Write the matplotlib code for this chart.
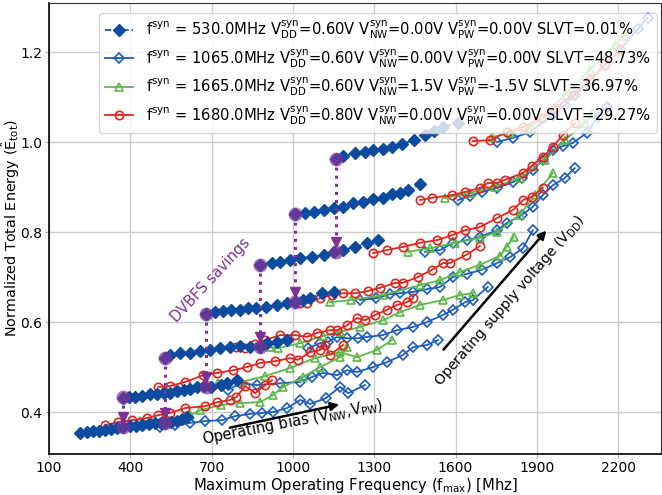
#!/usr/bin/env python3
"""
Normalized total energy vs. maximum operating frequency for four
synthesized designs, with the DVBFS savings arrows.
"""

import matplotlib
matplotlib.use("Agg")
import matplotlib.pyplot as plt

# ---------------------------------------------------------------------------
# Data, one inner list per V_DD step
# ---------------------------------------------------------------------------

# f_syn = 530 MHz (filled diamonds, dashed)
fd_freq = [
    [216, 240, 262, 285, 308, 330, 352, 374, 398, 420, 445, 468, 490, 512, 528, 550, 572, 592, 610],
    [374, 394, 419, 443, 474, 499, 523, 548, 573, 597, 622, 647, 671, 696, 733, 757, 794],
    [528, 547, 584, 621, 658, 695, 732, 769, 805, 842, 879, 903, 940, 978],
    [680, 713, 742, 772, 805, 834, 864, 900, 943, 980, 1008, 1039, 1063, 1107, 1150],
    [879, 922, 953, 990, 1027, 1070, 1113, 1150, 1186, 1229, 1272, 1315],
    [1008, 1045, 1076, 1113, 1150, 1186, 1223, 1260, 1297, 1334, 1365, 1395, 1426, 1469],
    [1159, 1186, 1229, 1266, 1297, 1334, 1365, 1402, 1445, 1487, 1520, 1553, 1610],
]
fd_energy = [
    [0.353, 0.355, 0.357, 0.359, 0.361, 0.362, 0.365, 0.367, 0.368, 0.370, 0.372, 0.373, 0.375, 0.376, 0.376, 0.379, 0.381, 0.385, 0.388],
    [0.432, 0.433, 0.434, 0.436, 0.440, 0.441, 0.443, 0.443, 0.447, 0.449, 0.452, 0.455, 0.458, 0.456, 0.460, 0.465, 0.471],
    [0.521, 0.527, 0.531, 0.531, 0.535, 0.538, 0.542, 0.545, 0.547, 0.545, 0.545, 0.553, 0.556, 0.561],
    [0.618, 0.622, 0.624, 0.627, 0.627, 0.631, 0.631, 0.634, 0.638, 0.642, 0.645, 0.649, 0.653, 0.664, 0.667],
    [0.727, 0.731, 0.734, 0.738, 0.742, 0.745, 0.749, 0.756, 0.760, 0.767, 0.775, 0.782],
    [0.839, 0.842, 0.845, 0.849, 0.853, 0.856, 0.864, 0.867, 0.873, 0.876, 0.884, 0.887, 0.894, 0.906],
    [0.962, 0.969, 0.975, 0.978, 0.982, 0.985, 0.989, 0.996, 1.004, 1.016, 1.025, 1.034, 1.042],
]

# f_syn = 1065 MHz (open diamonds)
hd_freq = [
    [511, 566, 621, 676, 739, 787, 842, 887, 927, 979, 1027, 1063, 1122, 1174, 1204, 1266],
    [761, 805, 868, 953, 1027, 1071, 1111, 1163, 1200, 1237, 1296, 1347, 1406, 1443, 1495, 1535],
    [1056, 1100, 1130, 1163, 1200, 1240, 1274, 1332, 1384, 1443, 1495, 1554, 1590, 1635, 1664, 1719],
    [1248, 1307, 1358, 1395, 1443, 1495, 1543, 1590, 1642, 1697, 1753, 1801, 1849, 1885],
    [1487, 1543, 1590, 1642, 1690, 1753, 1789, 1845, 1885, 1922, 1959, 2003, 2040],
    [1609, 1653, 1697, 1753, 1812, 1845, 1885, 1922, 1959, 1996, 2033, 2084, 2125, 2158],
    [1753, 1812, 1874, 1959, 2003, 2040, 2096, 2151, 2206, 2272, 2309],
]
hd_energy = [
    [0.367, 0.371, 0.376, 0.380, 0.382, 0.391, 0.396, 0.398, 0.400, 0.409, 0.427, 0.418, 0.431, 0.456, 0.442, 0.460],
    [0.449, 0.464, 0.460, 0.464, 0.467, 0.478, 0.487, 0.482, 0.493, 0.489, 0.500, 0.511, 0.527, 0.544, 0.549, 0.560],
    [0.542, 0.553, 0.556, 0.567, 0.564, 0.564, 0.567, 0.571, 0.582, 0.589, 0.600, 0.616, 0.627, 0.644, 0.649, 0.678],
    [0.649, 0.653, 0.662, 0.664, 0.667, 0.673, 0.678, 0.700, 0.707, 0.716, 0.731, 0.744, 0.764, 0.804],
    [0.756, 0.760, 0.776, 0.782, 0.789, 0.804, 0.820, 0.838, 0.856, 0.882, 0.904, 0.920, 0.942],
    [0.871, 0.880, 0.889, 0.898, 0.911, 0.920, 0.938, 0.960, 0.982, 0.991, 0.998, 1.020, 1.056, 1.078],
    [1.000, 1.009, 1.022, 1.060, 1.082, 1.104, 1.138, 1.171, 1.204, 1.251, 1.276],
]

# f_syn = 1665 MHz (open triangles)
g_freq = [
    [437, 529, 621, 658, 735, 805, 879, 927, 964, 1038, 1100, 1174, 1200],
    [676, 724, 809, 898, 990, 1082, 1174, 1237, 1310, 1366],
    [916, 946, 1027, 1111, 1174, 1248, 1333, 1395, 1469, 1554, 1616, 1664],
    [1137, 1215, 1333, 1469, 1543, 1616, 1690, 1764, 1789, 1815],
    [1425, 1506, 1598, 1690, 1753, 1837, 1893, 1959],
    [1561, 1653, 1745, 1837, 1930, 2003, 2077, 2107],
    [1734, 1801, 1874, 1922, 2003, 2096, 2188, 2225],
]
g_energy = [
    [0.380, 0.384, 0.393, 0.404, 0.416, 0.420, 0.422, 0.438, 0.456, 0.478, 0.500, 0.522, 0.544],
    [0.460, 0.464, 0.467, 0.480, 0.498, 0.520, 0.533, 0.522, 0.538, 0.560],
    [0.544, 0.542, 0.553, 0.569, 0.578, 0.589, 0.604, 0.622, 0.638, 0.649, 0.660, 0.664],
    [0.644, 0.649, 0.660, 0.682, 0.693, 0.711, 0.727, 0.747, 0.767, 0.789],
    [0.756, 0.764, 0.776, 0.787, 0.800, 0.838, 0.882, 0.931],
    [0.876, 0.887, 0.900, 0.920, 0.960, 1.004, 1.042, 1.064],
    [1.011, 1.020, 1.031, 1.056, 1.104, 1.160, 1.216, 1.236],
]

# f_syn = 1680 MHz (open circles)
r_freq = [
    [308, 356, 407, 463, 503, 547, 603, 676, 721, 769, 791, 824, 861, 898, 923],
    [503, 547, 603, 669, 721, 780, 831, 879, 935, 990, 1019, 1063, 1100, 1119, 1137, 1185],
    [791, 824, 861, 898, 953, 1008, 1052, 1089, 1137, 1163, 1200, 1237, 1266, 1303, 1347, 1384, 1421, 1443],
    [1027, 1052, 1100, 1144, 1185, 1229, 1277, 1321, 1377, 1406, 1461, 1513, 1554, 1579, 1639, 1690],
    [1296, 1347, 1406, 1469, 1532, 1587, 1635, 1690, 1753, 1812, 1849, 1881, 1922],
    [1469, 1513, 1587, 1635, 1690, 1719, 1753, 1782, 1848, 1881, 1922, 1959, 1996, 2040],
    [1664, 1727, 1789, 1848, 1918, 1966, 2033, 2096, 2151, 2206],
]
r_energy = [
    [0.371, 0.378, 0.382, 0.387, 0.393, 0.398, 0.409, 0.413, 0.422, 0.427, 0.433, 0.458, 0.442, 0.460, 0.471],
    [0.456, 0.458, 0.467, 0.482, 0.487, 0.493, 0.500, 0.509, 0.513, 0.520, 0.516, 0.533, 0.538, 0.549, 0.527, 0.549],
    [0.544, 0.542, 0.551, 0.560, 0.571, 0.571, 0.567, 0.576, 0.582, 0.582, 0.593, 0.609, 0.604, 0.616, 0.627, 0.638, 0.644, 0.653],
    [0.642, 0.642, 0.653, 0.660, 0.664, 0.664, 0.669, 0.676, 0.687, 0.687, 0.700, 0.716, 0.731, 0.731, 0.749, 0.769],
    [0.753, 0.760, 0.767, 0.776, 0.782, 0.793, 0.804, 0.811, 0.831, 0.849, 0.871, 0.878, 0.898],
    [0.871, 0.876, 0.882, 0.889, 0.898, 0.909, 0.909, 0.916, 0.931, 0.947, 0.967, 0.989, 1.016, 1.042],
    [1.002, 1.004, 1.022, 1.033, 1.053, 1.076, 1.104, 1.138, 1.171, 1.204],
]

# DVBFS savings: frequency, energy before (top) and after (bottom)
dvbfs_freq = [374, 528, 680, 879, 1008, 1159]
dvbfs_top = [0.434, 0.521, 0.618, 0.727, 0.839, 0.962]
dvbfs_bottom = [0.367, 0.376, 0.456, 0.545, 0.645, 0.756]

legend_labels = [
    r'$\mathregular{f^{syn}}$ = 530.0MHz $\mathregular{V^{syn}_{DD}}$=0.60V '
    r'$\mathregular{V^{syn}_{NW}}$=0.00V $\mathregular{V^{syn}_{PW}}$=0.00V SLVT=0.01%',
    r'$\mathregular{f^{syn}}$ = 1065.0MHz $\mathregular{V^{syn}_{DD}}$=0.60V '
    r'$\mathregular{V^{syn}_{NW}}$=0.00V $\mathregular{V^{syn}_{PW}}$=0.00V SLVT=48.73%',
    r'$\mathregular{f^{syn}}$ = 1665.0MHz $\mathregular{V^{syn}_{DD}}$=0.60V '
    r'$\mathregular{V^{syn}_{NW}}$=1.5V $\mathregular{V^{syn}_{PW}}$=-1.5V SLVT=36.97%',
    r'$\mathregular{f^{syn}}$ = 1680.0MHz $\mathregular{V^{syn}_{DD}}$=0.80V '
    r'$\mathregular{V^{syn}_{NW}}$=0.00V $\mathregular{V^{syn}_{PW}}$=0.00V SLVT=29.27%',
]

# ---------------------------------------------------------------------------
# Styling
# ---------------------------------------------------------------------------
colors = {
    'fd': '#0d4ba0',
    'hd': '#1c5cbf',
    'green': '#5cb848',
    'red': '#e0261e',
    'purple': '#7b3294',
    'grid': '#cccccc',
}

fig = plt.figure(figsize=(6.62, 4.95), dpi=100)
ax = fig.add_axes([0.074, 0.083, 0.924, 0.911])

ax.grid(True, color=colors['grid'], linewidth=1.0, zorder=0)
ax.set_axisbelow(True)

# open-marker series first, filled diamonds on top
for fx, ey in zip(hd_freq, hd_energy):
    h_hd, = ax.plot(fx, ey, '-', color=colors['hd'], lw=1.3, marker='D', ms=5.5,
                    mfc='none', mec=colors['hd'], mew=1.2, zorder=3)
for fx, ey in zip(g_freq, g_energy):
    h_g, = ax.plot(fx, ey, '-', color=colors['green'], lw=1.3, marker='^', ms=6,
                   mfc='none', mec=colors['green'], mew=1.2, zorder=3)
for fx, ey in zip(r_freq, r_energy):
    h_r, = ax.plot(fx, ey, '-', color=colors['red'], lw=1.3, marker='o', ms=6,
                   mfc='none', mec=colors['red'], mew=1.2, zorder=3)
for fx, ey in zip(fd_freq, fd_energy):
    h_fd, = ax.plot(fx, ey, '--', color=colors['fd'], lw=1.2, marker='D', ms=6.5,
                    mfc=colors['fd'], mec=colors['fd'], zorder=4)

# DVBFS savings arrows
for f, top, bot in zip(dvbfs_freq, dvbfs_top, dvbfs_bottom):
    ax.plot([f, f], [top, bot + 0.015], ':', color=colors['purple'], lw=2.2, zorder=5)
    ax.plot(f, bot + 0.022, 'v', color=colors['purple'], ms=7, zorder=6)
    ax.plot([f, f], [top, bot], 'o', color=colors['purple'], ms=10, alpha=0.7,
            mec='none', zorder=6)

ax.text(696, 0.693, 'DVBFS savings', color=colors['purple'], fontsize=10.5,
        rotation=47, ha='center', va='center', rotation_mode='anchor')

# operating bias arrow
ax.annotate('', xy=(1181, 0.418), xytext=(757, 0.364),
            arrowprops=dict(arrowstyle='-|>', color='black', lw=1.8,
                            mutation_scale=12), zorder=7)
ax.text(1000, 0.378, r'Operating bias ($\mathregular{V_{NW}}$,$\mathregular{V_{PW}}$)',
        fontsize=10.5, rotation=11, ha='center', va='center',
        rotation_mode='anchor', zorder=7)

# operating supply voltage arrow
ax.annotate('', xy=(1942, 0.808), xytext=(1549, 0.534),
            arrowprops=dict(arrowstyle='-|>', color='black', lw=1.8,
                            mutation_scale=12), zorder=7)
ax.text(1800, 0.648, r'Operating supply voltage ($\mathregular{V_{DD}}$)',
        fontsize=10.2, rotation=49, ha='center', va='center',
        rotation_mode='anchor', zorder=7)

ax.set_xlim(100, 2357)
ax.set_ylim(0.307, 1.309)
ax.set_xticks([100, 400, 700, 1000, 1300, 1600, 1900, 2200])
ax.set_yticks([0.4, 0.6, 0.8, 1.0, 1.2])
ax.tick_params(labelsize=10, color='#aaaaaa', length=3, pad=2)
ax.set_xlabel(r'Maximum Operating Frequency ($\mathregular{f_{max}}$) [Mhz]',
              fontsize=10.6, labelpad=1)
ax.set_ylabel(r'Normalized Total Energy ($\mathregular{\hat{E}_{tot}}$)',
              fontsize=10.4)
ax.yaxis.set_label_coords(-0.044, 0.5)

for side in ['left', 'bottom']:
    ax.spines[side].set_color('black')
    ax.spines[side].set_linewidth(1.2)
for side in ['top', 'right']:
    ax.spines[side].set_color('#333333')

leg = ax.legend([h_fd, h_hd, h_g, h_r], legend_labels, loc='upper right',
                bbox_to_anchor=(0.9935, 0.978), borderaxespad=0,
                fontsize=10.6, framealpha=0.8, edgecolor='#cccccc',
                handlelength=1.9, handletextpad=0.9, labelspacing=0.4)
leg.set_zorder(10)

fig.savefig('out.png', dpi=100)
print('saved out.png')
